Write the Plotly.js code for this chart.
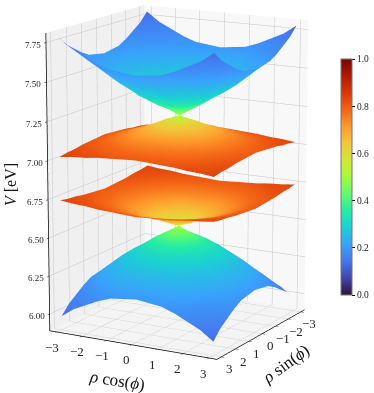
<!DOCTYPE html>
<html><head><meta charset="utf-8"><script src="https://cdn.plot.ly/plotly-3.0.1.min.js"></script>
<style>html,body{margin:0;padding:0;background:#fff;width:374px;height:393px;overflow:hidden}#c{position:absolute;left:-756px;top:-807px;width:1870px;height:1965px}</style></head><body><div id="c"></div>
<script>
const xs=[-3,-2.5,-2,-1.5,-1,-0.5,0,0.5,1,1.5,2,2.5,3];
const ys=[3,2.5,2,1.5,1,0.5,0,-0.5,-1,-1.5,-2,-2.5,-3];
const topZ=[
[7.78,7.72,7.68,7.64,7.61,7.60,7.59,7.60,7.61,7.64,7.68,7.72,7.78],
[7.72,7.67,7.62,7.58,7.55,7.53,7.52,7.53,7.55,7.58,7.62,7.67,7.72],
[7.68,7.62,7.57,7.52,7.49,7.46,7.46,7.46,7.49,7.52,7.57,7.62,7.68],
[7.64,7.58,7.52,7.47,7.43,7.40,7.40,7.40,7.43,7.47,7.52,7.58,7.64],
[7.61,7.55,7.49,7.43,7.38,7.35,7.34,7.35,7.38,7.43,7.49,7.55,7.61],
[7.60,7.53,7.46,7.40,7.35,7.31,7.29,7.31,7.35,7.40,7.46,7.53,7.60],
[7.59,7.52,7.46,7.40,7.34,7.29,7.24,7.29,7.34,7.40,7.46,7.52,7.59],
[7.60,7.53,7.46,7.40,7.35,7.31,7.29,7.31,7.35,7.40,7.46,7.53,7.60],
[7.61,7.55,7.49,7.43,7.38,7.35,7.34,7.35,7.38,7.43,7.49,7.55,7.61],
[7.64,7.58,7.52,7.47,7.43,7.40,7.40,7.40,7.43,7.47,7.52,7.58,7.64],
[7.68,7.62,7.57,7.52,7.49,7.46,7.46,7.46,7.49,7.52,7.57,7.62,7.68],
[7.72,7.67,7.62,7.58,7.55,7.53,7.52,7.53,7.55,7.58,7.62,7.67,7.72],
[7.78,7.72,7.68,7.64,7.61,7.60,7.59,7.60,7.61,7.64,7.68,7.72,7.78]];
const upperZ=[
[7.02,7.03,7.035,7.045,7.05,7.055,7.06,7.055,7.05,7.045,7.035,7.03,7.02],
[7.03,7.04,7.05,7.06,7.07,7.075,7.08,7.075,7.07,7.06,7.05,7.04,7.03],
[7.035,7.05,7.065,7.08,7.095,7.105,7.11,7.105,7.095,7.08,7.065,7.05,7.035],
[7.045,7.06,7.08,7.10,7.12,7.135,7.14,7.135,7.12,7.10,7.08,7.06,7.045],
[7.05,7.07,7.095,7.12,7.15,7.16,7.17,7.16,7.15,7.12,7.095,7.07,7.05],
[7.055,7.075,7.105,7.135,7.16,7.195,7.21,7.195,7.16,7.135,7.105,7.075,7.055],
[7.06,7.08,7.11,7.14,7.17,7.21,7.24,7.21,7.17,7.14,7.11,7.08,7.06],
[7.055,7.075,7.105,7.135,7.16,7.195,7.21,7.195,7.16,7.135,7.105,7.075,7.055],
[7.05,7.07,7.095,7.12,7.15,7.16,7.17,7.16,7.15,7.12,7.095,7.07,7.05],
[7.045,7.06,7.08,7.10,7.12,7.135,7.14,7.135,7.12,7.10,7.08,7.06,7.045],
[7.035,7.05,7.065,7.08,7.095,7.105,7.11,7.105,7.095,7.08,7.065,7.05,7.035],
[7.03,7.04,7.05,7.06,7.07,7.075,7.08,7.075,7.07,7.06,7.05,7.04,7.03],
[7.02,7.03,7.035,7.045,7.05,7.055,7.06,7.055,7.05,7.045,7.035,7.03,7.02]];
const lowerZ=[
[6.74,6.73,6.725,6.715,6.71,6.705,6.70,6.705,6.71,6.715,6.725,6.73,6.74],
[6.73,6.72,6.71,6.70,6.69,6.685,6.68,6.685,6.69,6.70,6.71,6.72,6.73],
[6.725,6.71,6.695,6.68,6.665,6.655,6.65,6.655,6.665,6.68,6.695,6.71,6.725],
[6.715,6.70,6.68,6.66,6.64,6.625,6.62,6.625,6.64,6.66,6.68,6.70,6.715],
[6.71,6.69,6.665,6.64,6.61,6.60,6.59,6.60,6.61,6.64,6.665,6.69,6.71],
[6.705,6.685,6.655,6.625,6.60,6.565,6.55,6.565,6.60,6.625,6.655,6.685,6.705],
[6.70,6.68,6.65,6.62,6.59,6.55,6.52,6.55,6.59,6.62,6.65,6.68,6.70],
[6.705,6.685,6.655,6.625,6.60,6.565,6.55,6.565,6.60,6.625,6.655,6.685,6.705],
[6.71,6.69,6.665,6.64,6.61,6.60,6.59,6.60,6.61,6.64,6.665,6.69,6.71],
[6.715,6.70,6.68,6.66,6.64,6.625,6.62,6.625,6.64,6.66,6.68,6.70,6.715],
[6.725,6.71,6.695,6.68,6.665,6.655,6.65,6.655,6.665,6.68,6.695,6.71,6.725],
[6.73,6.72,6.71,6.70,6.69,6.685,6.68,6.685,6.69,6.70,6.71,6.72,6.73],
[6.74,6.73,6.725,6.715,6.71,6.705,6.70,6.705,6.71,6.715,6.725,6.73,6.74]];
const bottomZ=[
[5.98,6.04,6.08,6.12,6.15,6.16,6.17,6.16,6.15,6.12,6.08,6.04,5.98],
[6.04,6.09,6.14,6.18,6.21,6.23,6.24,6.23,6.21,6.18,6.14,6.09,6.04],
[6.08,6.14,6.19,6.24,6.27,6.30,6.30,6.30,6.27,6.24,6.19,6.14,6.08],
[6.12,6.18,6.24,6.29,6.33,6.36,6.36,6.36,6.33,6.29,6.24,6.18,6.12],
[6.15,6.21,6.27,6.33,6.38,6.41,6.42,6.41,6.38,6.33,6.27,6.21,6.15],
[6.16,6.23,6.30,6.36,6.41,6.45,6.47,6.45,6.41,6.36,6.30,6.23,6.16],
[6.17,6.24,6.30,6.36,6.42,6.47,6.52,6.47,6.42,6.36,6.30,6.24,6.17],
[6.16,6.23,6.30,6.36,6.41,6.45,6.47,6.45,6.41,6.36,6.30,6.23,6.16],
[6.15,6.21,6.27,6.33,6.38,6.41,6.42,6.41,6.38,6.33,6.27,6.21,6.15],
[6.12,6.18,6.24,6.29,6.33,6.36,6.36,6.36,6.33,6.29,6.24,6.18,6.12],
[6.08,6.14,6.19,6.24,6.27,6.30,6.30,6.30,6.27,6.24,6.19,6.14,6.08],
[6.04,6.09,6.14,6.18,6.21,6.23,6.24,6.23,6.21,6.18,6.14,6.09,6.04],
[5.98,6.04,6.08,6.12,6.15,6.16,6.17,6.16,6.15,6.12,6.08,6.04,5.98]];
const coolWeight=[
[.13,.155,.17,.185,.195,.20,.205,.20,.195,.185,.17,.155,.13],
[.155,.175,.19,.21,.225,.23,.235,.23,.225,.21,.19,.175,.155],
[.17,.19,.215,.235,.25,.26,.265,.26,.25,.235,.215,.19,.17],
[.185,.21,.235,.255,.28,.295,.30,.295,.28,.255,.235,.21,.185],
[.195,.225,.25,.28,.31,.34,.35,.34,.31,.28,.25,.225,.195],
[.20,.23,.26,.295,.34,.39,.42,.39,.34,.295,.26,.23,.20],
[.205,.235,.265,.30,.35,.42,.50,.42,.35,.30,.265,.235,.205],
[.20,.23,.26,.295,.34,.39,.42,.39,.34,.295,.26,.23,.20],
[.195,.225,.25,.28,.31,.34,.35,.34,.31,.28,.25,.225,.195],
[.185,.21,.235,.255,.28,.295,.30,.295,.28,.255,.235,.21,.185],
[.17,.19,.215,.235,.25,.26,.265,.26,.25,.235,.215,.19,.17],
[.155,.175,.19,.21,.225,.23,.235,.23,.225,.21,.19,.175,.155],
[.13,.155,.17,.185,.195,.20,.205,.20,.195,.185,.17,.155,.13]];
const warmWeight=[
[.84,.83,.825,.815,.805,.80,.80,.80,.805,.815,.825,.83,.84],
[.83,.82,.81,.795,.785,.78,.775,.78,.785,.795,.81,.82,.83],
[.825,.81,.79,.775,.76,.75,.745,.75,.76,.775,.79,.81,.825],
[.815,.795,.775,.755,.73,.715,.71,.715,.73,.755,.775,.795,.815],
[.805,.785,.76,.73,.70,.67,.66,.67,.70,.73,.76,.785,.805],
[.80,.78,.75,.715,.67,.63,.60,.63,.67,.715,.75,.78,.80],
[.80,.775,.745,.71,.66,.60,.52,.60,.66,.71,.745,.775,.80],
[.80,.78,.75,.715,.67,.63,.60,.63,.67,.715,.75,.78,.80],
[.805,.785,.76,.73,.70,.67,.66,.67,.70,.73,.76,.785,.805],
[.815,.795,.775,.755,.73,.715,.71,.715,.73,.755,.775,.795,.815],
[.825,.81,.79,.775,.76,.75,.745,.75,.76,.775,.79,.81,.825],
[.83,.82,.81,.795,.785,.78,.775,.78,.785,.795,.81,.82,.83],
[.84,.83,.825,.815,.805,.80,.80,.80,.805,.815,.825,.83,.84]];
const turbo=['#30123b','#4145ab','#4675ed','#39a2fc','#1bcfd4','#24eca6','#61fc6c','#a4fc3b','#d1e834','#f3c63a','#fe9b2d','#f36315','#d93806','#b11901','#7a0402'];
const scale=turbo.map((c,i)=>[i/(turbo.length-1),c]);
const xTicks=[-3,-2,-1,0,1,2,3];
const xLabels=['−3','−2','−1','0','1','2','3'];
const yTicks=[3,2,1,0,-1,-2,-3];
const yLabels=['3','2','1','0','−1','−2','−3'];
const zTicks=[6,6.25,6.5,6.75,7,7.25,7.5,7.75];
const zLabels=['6.00','6.25','6.50','6.75','7.00','7.25','7.50','7.75'];
const barTicks=[0,.2,.4,.6,.8,1];
const barLabels=['0.0','0.2','0.4','0.6','0.8','1.0'];
const xRange=[-3.3,3.3],yRange=[-3.3,3.3],zRange=[5.89,7.81];
const font='"Liberation Serif",serif';
const W=1870,H=1965,OX=756,OY=807;
// the y axis runs in the opposite sense in the picture, so it is drawn on its negated scale
const flip=v=>-v;
function surf(z,w,bar){
  const t={type:'surface',x:xs,y:ys.map(flip),z:z,surfacecolor:w,cmin:0,cmax:1,colorscale:scale,
    lighting:{ambient:1,diffuse:0,specular:0,fresnel:0,roughness:1},
    contours:{x:{show:false},y:{show:false},z:{show:false}},hoverinfo:'skip',showscale:bar};
  if(bar)t.colorbar={x:(341+OX)/W,xanchor:'left',xpad:0,ypad:0,y:1-(177+OY)/H,yanchor:'middle',len:236/H,lenmode:'fraction',
    thickness:11,thicknessmode:'pixels',outlinecolor:'#777',outlinewidth:1,tickvals:barTicks,
    ticktext:barLabels,ticks:'outside',ticklen:3,tickcolor:'#000',tickfont:{family:font,size:9.5,color:'#222'}};
  return t;
}
function ax(bg,extra){return Object.assign({title:{text:''},backgroundcolor:bg,showbackground:true,gridcolor:'#c4c4c4',gridwidth:1,
  showline:true,linecolor:'#000',linewidth:1.5,ticks:'outside',ticklen:3,tickcolor:'#000',zeroline:false,showspikes:false,showticklabels:false},extra);}
const txt=(text,x,y,size,angle)=>({text,x:(x+OX)/W,y:1-(y+OY)/H,xref:'paper',yref:'paper',xanchor:'center',yanchor:'middle',showarrow:false,textangle:angle,font:{family:font,size,color:'#111'}});
const tick=(x,y,z,text,dx,dy,size)=>({x,y,z,text,xshift:dx,yshift:-dy,showarrow:false,xanchor:'center',yanchor:'middle',font:{family:font,size,color:'#222'}});
const sceneLabels=[
 ...xTicks.map((v,i)=>tick(v,yRange[0],zRange[0],xLabels[i],-5,15,13)),
 ...yTicks.map((v,i)=>tick(xRange[1],flip(v),zRange[0],yLabels[i],8,12,13)),
 ...zTicks.map((v,i)=>tick(xRange[0],yRange[0],v,zLabels[i],-13,2,9))];
const layout={width:W,height:H,margin:{l:0,r:0,t:0,b:0},paper_bgcolor:'#fff',showlegend:false,
 scene:{domain:{x:[0,1],y:[0,1]},aspectmode:'manual',aspectratio:{x:1,y:1,z:1.59},
  camera:{eye:{x:5.94,y:-10.6,z:2.91},center:{x:0,y:0,z:0},up:{x:0,y:0,z:1},projection:{type:'perspective'}},
  xaxis:ax('#f0f0f0',{range:xRange,tickvals:xTicks}),
  yaxis:ax('#f8f8f8',{range:yRange,tickvals:yTicks.map(flip)}),
  zaxis:ax('#f4f4f4',{range:zRange,tickvals:zTicks}),
  annotations:sceneLabels},
 annotations:[txt('<i>ρ</i> cos(<i>ϕ</i>)',117,380,17,9),txt('<i>ρ</i> sin(<i>ϕ</i>)',285,364,17,-36),txt('<i>V</i> [eV]',11,185,16,-90)]};
Plotly.newPlot('c',[surf(topZ,coolWeight,true),surf(upperZ,warmWeight,false),surf(lowerZ,warmWeight,false),surf(bottomZ,coolWeight,false)],layout,{displayModeBar:false});
</script></body></html>
